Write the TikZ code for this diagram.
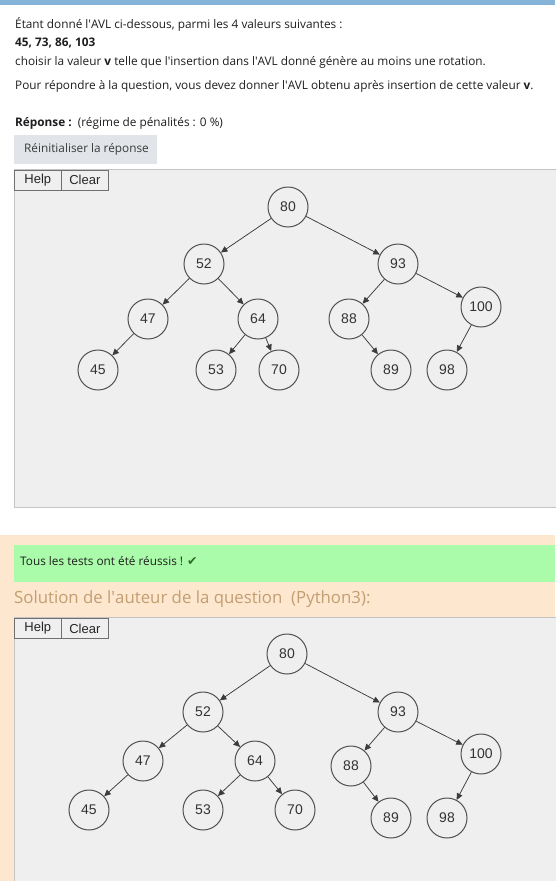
\documentclass[tikz,border=0pt]{standalone}
\usepackage{fontspec}
\setmainfont{Open Sans}
\newfontfamily\arialf{Liberation Sans}
\newfontfamily\dejavu{DejaVu Sans}
\usetikzlibrary{arrows.meta}
\newcommand\aps{\textquotesingle}
\definecolor{barblue}{HTML}{86B3DA}
\definecolor{panelbg}{HTML}{EFEFEF}
\definecolor{panelbd}{HTML}{C4C4C4}
\definecolor{btnbg}{HTML}{E1E4E8}
\definecolor{orangebg}{HTML}{FDE7CF}
\definecolor{greenbg}{HTML}{AAFCAA}
\definecolor{solc}{HTML}{C39E72}
\definecolor{textc}{HTML}{1E1E1E}
\definecolor{btntext}{HTML}{3A3A3A}
\definecolor{nodec}{HTML}{505050}
\definecolor{edgec}{HTML}{3C3C3C}
\definecolor{hbd}{HTML}{707070}
\definecolor{checkc}{HTML}{2F6B2F}
\begin{document}
\begin{tikzpicture}[x=1pt,y=-1pt,
  txt/.style={anchor=mid west, inner sep=0pt, font=\fontsize{11.8}{14}\selectfont, text=textc},
  tnode/.style={circle, draw=nodec, fill=panelbg, line width=1pt, minimum size=40pt, inner sep=0pt, font=\arialf\fontsize{14}{16}\selectfont, text=black!80},
  arr/.style={draw=edgec, line width=0.75pt, -{Triangle[length=6.5pt,width=6pt]}},
  hbtn/.style={draw=hbd, fill=panelbg, line width=0.7pt, minimum width=47pt, minimum height=20pt, inner sep=0pt, anchor=north west, font=\arialf\fontsize{13}{15}\selectfont, text=black!85}
]
\useasboundingbox (0,0) rectangle (555,881);
\fill[white] (0,0) rectangle (555,881);
% top bar
\fill[barblue] (0,0) rectangle (555,5);
% question text
\node[txt] (l1) at (15,26) {Étant donné l\aps AVL ci-dessous, parmi les 4 valeurs suivantes :};
\node[txt] (l2) at (15,44) {\bfseries 45, 73, 86, 103};
\node[txt] (l3) at (15,63) {choisir la valeur \textbf{v} telle que l\aps insertion dans l\aps AVL donné génère au moins une rotation.};
\node[txt] (l4) at (15,87) {Pour répondre à la question, vous devez donner l\aps AVL obtenu après insertion de cette valeur \textbf{v}.};
\node[txt] (rep) at (15,124) {\textbf{Réponse :}\ \ (régime de pénalités : 0 \%)};
% reset button
\fill[btnbg] (14,135) rectangle (157,164);
\node[txt, text=btntext] (reset) at (24,150) {Réinitialiser la réponse};
% panel 1
\filldraw[fill=panelbg, draw=panelbd, line width=0.8pt] (14,169.5) rectangle (560,507);
\node[hbtn] (help1) at (14,170) {Help};
\node[hbtn] (clear1) at (61,170) {Clear};
% tree 1
\node[tnode] (a80) at (288,207) {80};
\node[tnode] (a52) at (204,264) {52};
\node[tnode] (a93) at (398,264) {93};
\node[tnode] (a47) at (148,319) {47};
\node[tnode] (a64) at (258,319) {64};
\node[tnode] (a88) at (349,319) {88};
\node[tnode] (a100) at (481,307) {100};
\node[tnode] (a45) at (98,370) {45};
\node[tnode] (a53) at (216,370) {53};
\node[tnode] (a70) at (279,370) {70};
\node[tnode] (a89) at (391,370) {89};
\node[tnode] (a98) at (447,370) {98};
\foreach \p/\c in {80/52,80/93,52/47,52/64,47/45,64/53,64/70,93/88,93/100,88/89,100/98}
  \draw[arr] (a\p) -- (a\c);
% solution area
\fill[orangebg] (0,535) rectangle (555,881);
\fill[greenbg] (14,545) rectangle (555,582);
\node[txt] (ok) at (20,563) {Tous les tests ont été réussis ! {\dejavu\fontsize{12.5}{14}\selectfont\color{checkc}✔}};
\node[txt, font=\fontsize{16.8}{20}\selectfont, text=solc] (sol) at (14,601) {Solution de l\aps auteur de la question\ \ (Python3):};
% panel 2
\filldraw[fill=panelbg, draw=panelbd, line width=0.8pt] (14,617.5) rectangle (560,890);
\node[hbtn] (help2) at (14,618) {Help};
\node[hbtn] (clear2) at (61,618) {Clear};
% tree 2
\node[tnode] (b80) at (287,654) {80};
\node[tnode] (b52) at (203,712) {52};
\node[tnode] (b93) at (398,712) {93};
\node[tnode] (b47) at (143,761) {47};
\node[tnode] (b64) at (255,761) {64};
\node[tnode] (b88) at (351,766) {88};
\node[tnode] (b100) at (481,754) {100};
\node[tnode] (b45) at (89,810) {45};
\node[tnode] (b53) at (203,810) {53};
\node[tnode] (b70) at (295,810) {70};
\node[tnode] (b89) at (391,818) {89};
\node[tnode] (b98) at (447,818) {98};
\foreach \p/\c in {80/52,80/93,52/47,52/64,47/45,64/53,64/70,93/88,93/100,88/89,100/98}
  \draw[arr] (b\p) -- (b\c);
\end{tikzpicture}
\end{document}
